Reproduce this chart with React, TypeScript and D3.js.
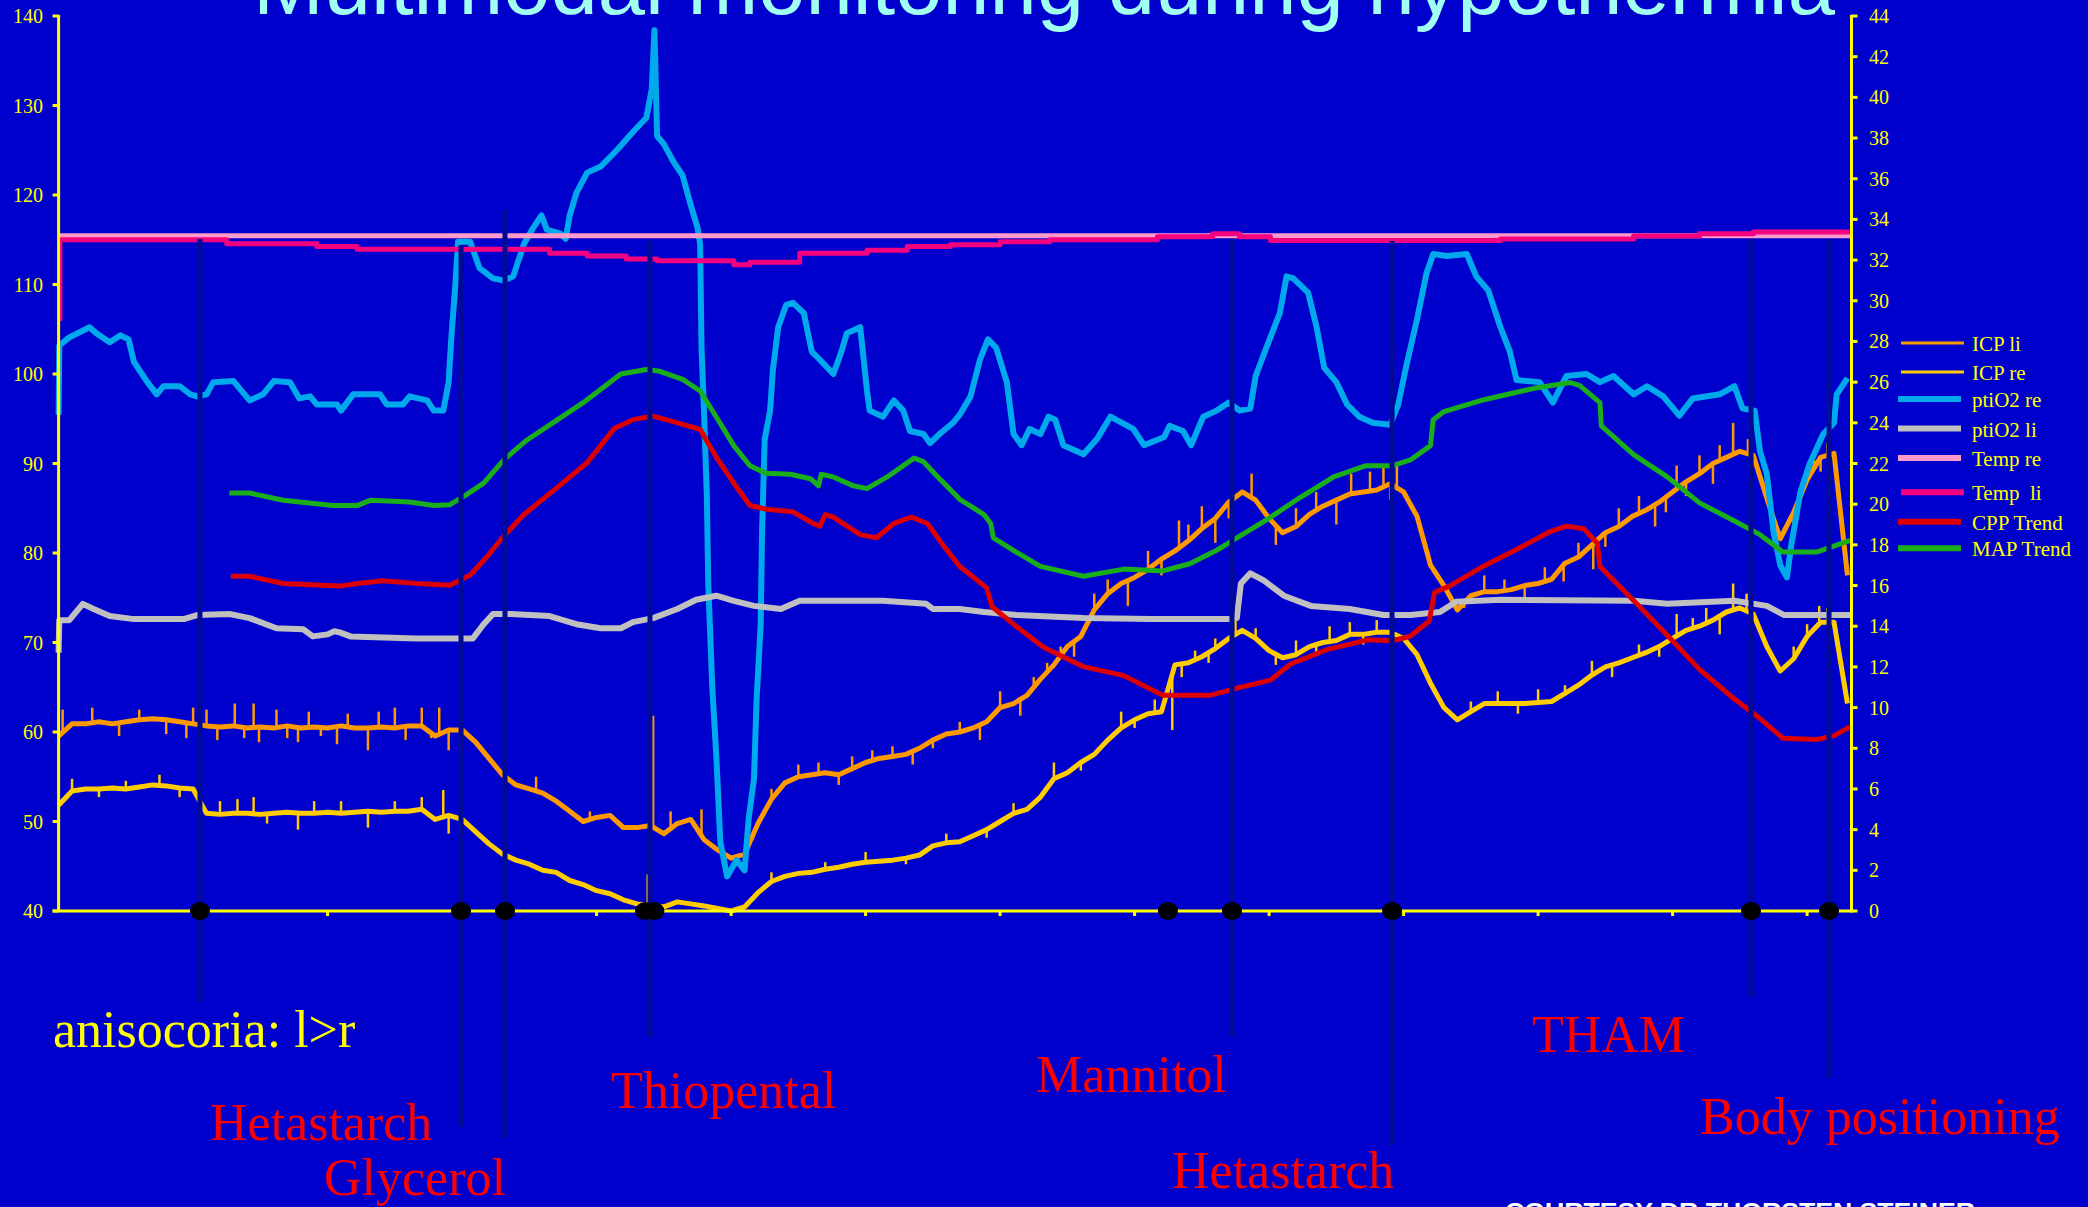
import React from 'react';
import * as d3 from 'd3';

type P = [number, number];

// ---------- DATA ----------
const T_END = 13.33; // hours shown on the time axis
const hourTicks = d3.range(0, 14);
const leftTicks = d3.range(40, 141, 10); // MAP / CPP (mmHg)
const rightTicks = d3.range(0, 45, 2); // ICP, ptiO2, Temp

const ICP_STEP = 0.1; // hours between ICP trend samples
const icpLi = [
  8.6, 9.2, 9.2, 9.3, 9.2, 9.3, 9.4, 9.45, 9.4, 9.3, 9.2, 9.1, 9.05, 9.1, 9.0, 9.05, 9.0, 9.1, 9.0, 9.05,
  9.0, 9.1, 9.0, 9.0, 9.05, 9.0, 9.1, 9.1, 8.6, 8.9, 8.9, 8.3, 7.5, 6.7, 6.2, 6.0, 5.8, 5.4, 4.9, 4.4,
  4.6, 4.7, 4.1, 4.1, 4.2, 3.8, 4.3, 4.5, 3.5, 3.0, 2.6, 2.8, 4.3, 5.5, 6.3, 6.6, 6.7, 6.8, 6.7, 7.0,
  7.3, 7.5, 7.6, 7.7, 8.0, 8.4, 8.7, 8.8, 9.0, 9.3, 10.0, 10.2, 10.6, 11.4, 12.1, 13.0, 13.5, 14.8, 15.6, 16.1,
  16.4, 16.8, 17.3, 17.7, 18.2, 18.8, 19.3, 20.1, 20.6, 20.2, 19.3, 18.6, 18.9, 19.5, 19.9, 20.2, 20.5, 20.6, 20.7, 21.0,
  20.6, 19.4, 17.0, 16.0, 14.8, 15.5, 15.7, 15.7, 15.8, 16.0, 16.1, 16.3, 17.1, 17.4, 18.0, 18.6, 18.9, 19.4, 19.7, 20.1,
  20.6, 21.1, 21.5, 22.0, 22.3, 22.6, 22.4, 20.3, 18.3, 19.6, 21.2, 22.3, 22.5, 16.5,
];
const icpRe = [
  5.2, 5.9, 6.0, 6.0, 6.05, 6.0, 6.1, 6.2, 6.15, 6.05, 6.0, 4.8, 4.75, 4.8, 4.8, 4.75, 4.8, 4.85, 4.8, 4.8,
  4.85, 4.8, 4.85, 4.9, 4.85, 4.9, 4.9, 5.0, 4.5, 4.7, 4.5, 3.9, 3.3, 2.8, 2.5, 2.3, 2.0, 1.9, 1.5, 1.3,
  1.0, 0.85, 0.55, 0.35, 0.3, 0.2, 0.45, 0.35, 0.25, 0.12, 0.0, 0.2, 0.9, 1.45, 1.7, 1.85, 1.9, 2.05, 2.15, 2.3,
  2.4, 2.45, 2.5, 2.6, 2.75, 3.2, 3.35, 3.4, 3.7, 4.0, 4.4, 4.8, 5.0, 5.6, 6.5, 6.8, 7.3, 7.7, 8.4, 9.0,
  9.4, 9.7, 9.8, 12.1, 12.2, 12.5, 12.9, 13.4, 13.8, 13.4, 12.8, 12.45, 12.6, 13.0, 13.2, 13.3, 13.6, 13.6, 13.7, 13.7,
  13.4, 12.6, 11.2, 10.0, 9.4, 9.8, 10.2, 10.2, 10.2, 10.2, 10.25, 10.3, 10.7, 11.1, 11.6, 12.0, 12.2, 12.45, 12.7, 13.0,
  13.4, 13.8, 14.0, 14.3, 14.7, 14.9, 14.6, 13.0, 11.8, 12.4, 13.5, 14.2, 14.2, 10.2,
];
// individual artefact spikes in the raw ICP signals [hour, value]
const icpLiSpikes: P[] = [
  [0.03, 9.9], [0.25, 10.0], [0.45, 8.6], [0.6, 9.9], [0.8, 8.7], [0.95, 8.5], [1.0, 10.0], [1.1, 9.9], [1.18, 8.4],
  [1.31, 10.2], [1.38, 8.5], [1.45, 10.2], [1.49, 8.3], [1.62, 9.9], [1.7, 8.5], [1.78, 8.3], [1.86, 9.8], [1.95, 8.6],
  [2.07, 8.2], [2.15, 9.7], [2.3, 7.9], [2.38, 9.8], [2.5, 10.0], [2.58, 8.4], [2.7, 10.0], [2.77, 8.5], [2.83, 10.0],
  [2.9, 7.9], [3.55, 6.6], [3.95, 4.9], [4.42, 9.6], [4.55, 4.9], [4.78, 5.0], [5.3, 6.0], [5.5, 7.2], [5.65, 7.3],
  [5.8, 6.2], [5.9, 7.6], [6.05, 7.9], [6.2, 8.1], [6.35, 7.2], [6.5, 8.0], [6.7, 9.3], [6.85, 8.4], [7.0, 10.8],
  [7.15, 9.6], [7.25, 11.5], [7.35, 12.2], [7.45, 13.0], [7.55, 12.5], [7.7, 15.6], [7.8, 16.3], [7.95, 15.0], [8.1, 17.7],
  [8.2, 16.5], [8.33, 19.2], [8.4, 19.0], [8.5, 19.9], [8.6, 18.1], [8.7, 19.3], [8.87, 21.5], [9.05, 18.0], [9.2, 19.8],
  [9.35, 20.6], [9.5, 19.0], [9.61, 21.5], [9.75, 21.6], [9.85, 21.8], [9.9, 20.2], [9.95, 22.0], [10.45, 14.9], [10.6, 16.5],
  [10.75, 16.3], [10.9, 15.4], [11.05, 16.9], [11.19, 16.2], [11.3, 18.1], [11.41, 16.8], [11.5, 17.9], [11.6, 19.8],
  [11.75, 20.4], [11.87, 18.9], [11.95, 19.6], [12.03, 21.9], [12.1, 20.4], [12.2, 22.4], [12.3, 21.0], [12.35, 22.9],
  [12.45, 24.0], [12.56, 23.2], [12.9, 18.4], [13.05, 22.3], [13.1, 21.6], [13.15, 23.0],
];
const icpReSpikes: P[] = [
  [0.1, 6.5], [0.3, 5.6], [0.5, 6.4], [0.75, 6.7], [0.9, 5.6], [1.2, 5.4], [1.33, 5.5], [1.45, 5.6], [1.55, 4.3],
  [1.78, 4.0], [1.9, 5.4], [2.1, 5.4], [2.3, 4.1], [2.5, 5.4], [2.7, 5.6], [2.86, 5.95], [2.9, 3.8], [4.38, 1.8],
  [5.3, 1.9], [5.7, 2.4], [6.0, 2.9], [6.3, 2.3], [6.6, 3.8], [6.9, 3.6], [7.1, 5.3], [7.4, 7.3], [7.6, 6.9],
  [7.9, 9.8], [8.0, 9.0], [8.15, 10.4], [8.28, 8.9], [8.35, 11.5], [8.45, 12.8], [8.55, 12.2], [8.6, 13.4], [8.75, 14.5],
  [8.9, 13.9], [9.05, 12.1], [9.2, 13.3], [9.35, 12.6], [9.45, 14.0], [9.6, 14.2], [9.7, 13.1], [9.8, 14.3], [10.5, 10.3],
  [10.7, 10.8], [10.85, 9.7], [11.0, 10.9], [11.2, 11.1], [11.4, 12.3], [11.55, 11.5], [11.75, 13.1], [11.9, 12.5],
  [12.03, 14.6], [12.15, 14.4], [12.25, 14.9], [12.35, 13.6], [12.45, 16.1], [12.55, 15.6], [12.9, 13.0], [13.0, 14.1],
  [13.09, 15.0], [13.15, 14.9],
];

const ptiO2Re: P[] = [
  [0, 24.4], [0.005, 27.8], [0.08, 28.2], [0.23, 28.7], [0.28, 28.4], [0.38, 27.96], [0.46, 28.3], [0.52, 28.1],
  [0.56, 27.0], [0.66, 26.0], [0.73, 25.4], [0.78, 25.8], [0.9, 25.8], [0.98, 25.4], [1.03, 25.3], [1.1, 25.4],
  [1.15, 26.0], [1.3, 26.05], [1.42, 25.1], [1.52, 25.4], [1.6, 26.05], [1.72, 26.0], [1.79, 25.2], [1.87, 25.3],
  [1.92, 24.9], [2.07, 24.9], [2.1, 24.6], [2.19, 25.4], [2.39, 25.4], [2.44, 24.9], [2.56, 24.9], [2.61, 25.3],
  [2.74, 25.1], [2.79, 24.6], [2.86, 24.6], [2.9, 26.0], [2.92, 28.2], [2.95, 30.8], [2.97, 32.9], [3.06, 32.9],
  [3.13, 31.6], [3.23, 31.1], [3.31, 31.0], [3.38, 31.2], [3.46, 32.8], [3.53, 33.6], [3.59, 34.2], [3.63, 33.5],
  [3.73, 33.3], [3.77, 33.05], [3.8, 34.2], [3.85, 35.3], [3.93, 36.3], [4.03, 36.6], [4.15, 37.4], [4.27, 38.3],
  [4.37, 39.0], [4.41, 40.4], [4.43, 43.3], [4.45, 38.1], [4.5, 37.7], [4.57, 36.85], [4.64, 36.15], [4.7, 34.7],
  [4.75, 33.6], [4.77, 32.76], [4.78, 27.7], [4.8, 24.3], [4.82, 20.3], [4.83, 16.1], [4.86, 11.0], [4.89, 7.6],
  [4.92, 3.4], [4.97, 1.7], [5.04, 2.5], [5.1, 2.0], [5.13, 4.5], [5.17, 6.5], [5.19, 10.45], [5.22, 14.1],
  [5.23, 18.65], [5.25, 23.2], [5.29, 24.6], [5.31, 26.55], [5.35, 28.7], [5.41, 29.8], [5.46, 29.9], [5.54, 29.4],
  [5.6, 27.5], [5.66, 27.1], [5.76, 26.4], [5.82, 27.5], [5.86, 28.4], [5.96, 28.7], [6.01, 25.6], [6.03, 24.6],
  [6.13, 24.3], [6.21, 25.1], [6.28, 24.6], [6.33, 23.6], [6.43, 23.45], [6.48, 23.0], [6.55, 23.45], [6.65, 24.0],
  [6.7, 24.4], [6.78, 25.3], [6.85, 27.1], [6.91, 28.1], [6.97, 27.7], [7.05, 26.0], [7.1, 23.45], [7.16, 22.9],
  [7.22, 23.7], [7.3, 23.45], [7.36, 24.3], [7.41, 24.15], [7.47, 22.9], [7.62, 22.45], [7.72, 23.2], [7.82, 24.3],
  [7.99, 23.7], [8.07, 22.9], [8.22, 23.3], [8.26, 23.85], [8.36, 23.6], [8.42, 22.9], [8.51, 24.3], [8.61, 24.6],
  [8.7, 25.0], [8.78, 24.6], [8.86, 24.7], [8.9, 26.3], [8.98, 27.7], [9.08, 29.4], [9.13, 31.2], [9.18, 31.1],
  [9.29, 30.4], [9.35, 28.8], [9.41, 26.7], [9.5, 26.0], [9.58, 24.9], [9.67, 24.3], [9.77, 24.0], [9.9, 23.9],
  [9.96, 24.9], [10.02, 26.8], [10.1, 29.1], [10.17, 31.35], [10.22, 32.3], [10.32, 32.2], [10.47, 32.3], [10.54, 31.2],
  [10.63, 30.5], [10.72, 28.7], [10.79, 27.5], [10.84, 26.1], [11.01, 26.0], [11.11, 25.0], [11.21, 26.3], [11.36, 26.4],
  [11.46, 26.0], [11.56, 26.3], [11.71, 25.4], [11.81, 25.8], [11.93, 25.3], [12.05, 24.35], [12.15, 25.2], [12.35, 25.4],
  [12.46, 25.8], [12.52, 24.7], [12.61, 24.6], [12.65, 22.6], [12.7, 21.5], [12.75, 18.65], [12.8, 17.0], [12.85, 16.4],
  [12.88, 17.9], [12.95, 20.6], [13.02, 22.0], [13.12, 23.45], [13.2, 24.0], [13.22, 25.4], [13.3, 26.2],
];

const ptiO2Li: P[] = [
  [0, 12.7], [0.005, 14.3], [0.08, 14.3], [0.18, 15.1], [0.26, 14.85], [0.38, 14.5], [0.56, 14.35], [0.93, 14.35],
  [1.03, 14.55], [1.27, 14.6], [1.42, 14.4], [1.62, 13.9], [1.82, 13.85], [1.89, 13.5], [2.0, 13.6], [2.05, 13.75],
  [2.09, 13.7], [2.17, 13.5], [2.66, 13.4], [3.08, 13.4], [3.16, 14.1], [3.23, 14.6], [3.36, 14.6], [3.65, 14.5],
  [3.85, 14.1], [4.03, 13.9], [4.18, 13.9], [4.27, 14.2], [4.42, 14.4], [4.6, 14.85], [4.74, 15.3], [4.89, 15.5],
  [5.02, 15.25], [5.17, 15.0], [5.37, 14.85], [5.51, 15.25], [6.13, 15.25], [6.45, 15.1], [6.5, 14.85], [6.7, 14.85],
  [6.88, 14.7], [7.12, 14.55], [7.62, 14.4], [8.12, 14.35], [8.7, 14.35], [8.76, 14.4], [8.79, 16.1], [8.86, 16.6],
  [8.96, 16.25], [9.11, 15.5], [9.31, 15.0], [9.6, 14.85], [9.85, 14.55], [10.05, 14.55], [10.27, 14.7], [10.39, 15.2],
  [10.72, 15.3], [11.71, 15.25], [11.96, 15.1], [12.46, 15.25], [12.7, 15.0], [12.83, 14.55], [13.33, 14.55],
];

const tempRe: P[] = [[0, 33.2], [13.33, 33.2]];
const tempLi: P[] = [
  [0, 29.1], [0.01, 33.0], [1.25, 32.8], [1.92, 32.67], [2.22, 32.53], [3.65, 32.34], [3.93, 32.2], [4.22, 32.05],
  [4.45, 31.97], [5.02, 31.77], [5.14, 31.9], [5.51, 32.34], [6.01, 32.48], [6.31, 32.67], [6.63, 32.76], [7.0, 32.9],
  [7.37, 33.0], [8.17, 33.15], [8.58, 33.3], [8.78, 33.15], [9.01, 32.96], [10.72, 33.04], [11.71, 33.18], [12.2, 33.3],
  [12.6, 33.38], [13.33, 33.38],
];

const mapTrend: P[] = [
  [1.27, 86.7], [1.42, 86.7], [1.67, 85.9], [2.04, 85.3], [2.22, 85.3], [2.32, 85.9], [2.61, 85.7], [2.79, 85.3],
  [2.91, 85.4], [3.03, 86.5], [3.16, 87.8], [3.31, 90.4], [3.48, 92.6], [3.68, 94.6], [3.9, 96.8], [4.18, 100.0],
  [4.37, 100.5], [4.47, 100.3], [4.64, 99.4], [4.77, 98.1], [4.89, 95.2], [5.02, 92.0], [5.14, 89.75], [5.26, 88.9],
  [5.44, 88.8], [5.59, 88.3], [5.65, 87.5], [5.67, 88.8], [5.76, 88.5], [5.91, 87.5], [6.01, 87.2], [6.16, 88.5],
  [6.36, 90.6], [6.43, 90.2], [6.55, 88.3], [6.7, 86.0], [6.88, 84.3], [6.93, 83.3], [6.95, 81.7], [7.12, 80.1],
  [7.3, 78.5], [7.62, 77.4], [7.92, 78.2], [8.21, 78.0], [8.41, 78.8], [8.61, 80.3], [8.76, 81.7], [8.98, 83.7],
  [9.23, 86.2], [9.48, 88.5], [9.72, 89.75], [9.92, 89.75], [10.05, 90.4], [10.2, 92.0], [10.22, 94.9], [10.3, 95.8],
  [10.59, 97.1], [10.97, 98.4], [11.24, 99.05], [11.31, 98.7], [11.46, 96.8], [11.47, 94.2], [11.71, 91.0], [11.96, 88.5],
  [12.2, 85.6], [12.45, 83.65], [12.65, 82.05], [12.82, 80.1], [13.07, 80.1], [13.32, 81.4],
];

const cppTrend: P[] = [
  [1.28, 77.4], [1.42, 77.4], [1.67, 76.6], [2.09, 76.3], [2.22, 76.6], [2.41, 76.9], [2.66, 76.6], [2.91, 76.4],
  [3.06, 77.55], [3.18, 79.5], [3.31, 81.9], [3.46, 84.3], [3.68, 87.0], [3.93, 90.1], [4.13, 93.9], [4.27, 94.9],
  [4.42, 95.3], [4.59, 94.6], [4.77, 93.8], [4.89, 90.7], [5.02, 87.8], [5.14, 85.3], [5.26, 84.9], [5.46, 84.6],
  [5.61, 83.3], [5.66, 83.0], [5.7, 84.3], [5.76, 84.0], [5.96, 82.05], [6.08, 81.7], [6.21, 83.3], [6.34, 84.0],
  [6.46, 83.3], [6.58, 80.8], [6.7, 78.5], [6.78, 77.55], [6.9, 76.1], [6.94, 74.0], [7.12, 71.8], [7.32, 69.5],
  [7.62, 67.3], [7.92, 66.3], [8.21, 64.1], [8.56, 64.1], [8.76, 64.9], [9.01, 65.8], [9.16, 67.6], [9.43, 69.2],
  [9.73, 70.3], [9.92, 70.2], [10.05, 70.7], [10.19, 72.4], [10.23, 75.6], [10.34, 76.3], [10.59, 78.5], [10.84, 80.4],
  [11.09, 82.4], [11.21, 83.0], [11.34, 82.7], [11.44, 81.1], [11.46, 78.5], [11.71, 74.7], [11.96, 70.8], [12.2, 67.0],
  [12.45, 63.8], [12.65, 61.5], [12.82, 59.3], [13.07, 59.15], [13.2, 59.6], [13.32, 60.6],
];

// interventions (hours)
const eventHours = [1.051, 2.992, 3.319, 4.397, 8.724, 9.914, 12.583, 13.163];
const dotHours = [1.051, 2.992, 3.319, 4.36, 4.43, 8.248, 8.724, 9.914, 12.583, 13.163];

const legendNames = ['ICP li', 'ICP re', 'ptiO2 re', 'ptiO2 li', 'Temp re', 'Temp  li', 'CPP Trend', 'MAP Trend'];

const titleText = 'Multimodal monitoring during hypothermia';

// ---------- LAYOUT / STYLE ----------
const W = 2088;
const H = 1207;
const BG = '#0000CC';
const AX = '#FFFF00';
const LEFT = 58.6;
const RIGHT = 1851.5;
const TOP = 16;
const BOTTOM = 911;
const SERIF = '"Liberation Serif", "Times New Roman", serif';

const colors = {
  icpLi: '#FF9900',
  icpRe: '#FFCC00',
  ptiRe: '#00A8EC',
  ptiLi: '#C0C0C0',
  tempRe: '#FF99CC',
  tempLi: '#F5007E',
  cpp: '#DD0000',
  map: '#1AAE1A',
};
const legendStyle = [
  { c: colors.icpLi, w: 3, x0: 1901 },
  { c: colors.icpRe, w: 3, x0: 1901 },
  { c: colors.ptiRe, w: 6, x0: 1898 },
  { c: colors.ptiLi, w: 6, x0: 1898 },
  { c: colors.tempRe, w: 6, x0: 1898 },
  { c: colors.tempLi, w: 6, x0: 1901 },
  { c: colors.cpp, w: 6, x0: 1898 },
  { c: colors.map, w: 6, x0: 1898 },
];
const legendY = [343, 372, 399, 428.6, 458, 492.3, 521.7, 548.3];

const eventTop = [239, 245, 210, 241, 239, 241, 239, 239];
const eventBottom = [1002, 1127, 1138, 1037, 1037, 1145, 997, 1078];

const labels = [
  { t: 'anisocoria: l>r', x: 53, y: 1047, c: '#FFFF00' },
  { t: 'Hetastarch', x: 210, y: 1140, c: '#FF0000' },
  { t: 'Glycerol', x: 324, y: 1195, c: '#FF0000' },
  { t: 'Thiopental', x: 611, y: 1108, c: '#FF0000' },
  { t: 'Mannitol', x: 1036, y: 1092, c: '#FF0000' },
  { t: 'Hetastarch', x: 1172, y: 1188, c: '#FF0000' },
  { t: 'THAM', x: 1532, y: 1052, c: '#FF0000' },
  { t: 'Body positioning', x: 1700, y: 1134, c: '#FF0000' },
];

export default function App() {
  const x = d3.scaleLinear().domain([0, T_END]).range([LEFT, RIGHT]);
  const yL = d3.scaleLinear().domain([40, 140]).range([BOTTOM, TOP]);
  const yR = d3.scaleLinear().domain([0, 44]).range([BOTTOM, TOP]);

  const lineL = d3.line<P>().x((d) => x(d[0])).y((d) => yL(d[1]));
  const lineR = d3.line<P>().x((d) => x(d[0])).y((d) => yR(d[1]));
  const stepR = d3
    .line<P>()
    .x((d) => x(d[0]))
    .y((d) => yR(d[1]))
    .curve(d3.curveStepAfter);
  const icpPts = (arr: number[]): P[] => arr.map((v, i) => [i * ICP_STEP, v]);
  const baseAt = (arr: number[], h: number) => {
    const f = h / ICP_STEP;
    const i = Math.min(arr.length - 2, Math.floor(f));
    const t = f - i;
    return arr[i] * (1 - t) + arr[i + 1] * t;
  };

  const spikes = (arr: number[], sp: P[], c: string, key: string) => (
    <g key={key} stroke={c} strokeWidth={2.5}>
      {sp.map((s, i) => (
        <line key={i} x1={x(s[0])} x2={x(s[0])} y1={yR(baseAt(arr, s[0]))} y2={yR(s[1])} />
      ))}
    </g>
  );

  const series = [
    { d: lineR(ptiO2Re), c: colors.ptiRe, w: 6 },
    { d: lineR(ptiO2Li), c: colors.ptiLi, w: 6 },
    { d: lineR(tempRe), c: colors.tempRe, w: 5 },
    { d: stepR(tempLi), c: colors.tempLi, w: 5 },
    { d: lineL(cppTrend), c: colors.cpp, w: 5 },
    { d: lineL(mapTrend), c: colors.map, w: 5 },
  ];

  return (
    <svg
      width={W}
      height={H}
      style={{ position: 'absolute', left: 0, top: 0, display: 'block' }}
      xmlns="http://www.w3.org/2000/svg"
    >
      <rect x={0} y={0} width={W} height={H} fill={BG} />

      <text
        x={253}
        y={14}
        fill="#A0FFF0"
        fontFamily='"Liberation Sans", Arial, sans-serif'
        fontSize={85}
        textLength={1582}
        lengthAdjust="spacingAndGlyphs"
      >
        {titleText}
      </text>

      {/* ICP raw signals: trend band plus artefact spikes */}
      <g fill="none" strokeLinejoin="round">
        <path d={lineR(icpPts(icpLi)) || ''} stroke={colors.icpLi} strokeWidth={5} />
        {spikes(icpLi, icpLiSpikes, colors.icpLi, 'sl')}
        <path d={lineR(icpPts(icpRe)) || ''} stroke={colors.icpRe} strokeWidth={5} />
        {spikes(icpRe, icpReSpikes, colors.icpRe, 'sr')}
      </g>

      {/* other series */}
      <g fill="none" strokeLinejoin="round" strokeLinecap="butt">
        {series.map((s, i) => (
          <path key={i} d={s.d || ''} stroke={s.c} strokeWidth={s.w} />
        ))}
      </g>

      {/* left axis */}
      <g stroke={AX} strokeWidth={3}>
        <line x1={LEFT} x2={LEFT} y1={TOP - 1} y2={BOTTOM} />
        {leftTicks.map((t) => (
          <line key={t} x1={LEFT - 6} x2={LEFT} y1={yL(t)} y2={yL(t)} />
        ))}
      </g>
      <g fill={AX} fontFamily={SERIF} fontSize={20} textAnchor="end">
        {leftTicks.map((t) => (
          <text key={t} x={43} y={yL(t) + 7}>
            {t}
          </text>
        ))}
      </g>

      {/* right axis */}
      <g stroke={AX} strokeWidth={3}>
        <line x1={RIGHT} x2={RIGHT} y1={TOP - 1} y2={BOTTOM + 1.5} />
        {rightTicks.map((t) => (
          <line key={t} x1={RIGHT} x2={RIGHT + 6} y1={yR(t)} y2={yR(t)} />
        ))}
      </g>
      <g fill={AX} fontFamily={SERIF} fontSize={20} textAnchor="start">
        {rightTicks.map((t) => (
          <text key={t} x={1869} y={yR(t) + 7}>
            {t}
          </text>
        ))}
      </g>

      {/* x axis */}
      <g stroke={AX} strokeWidth={3}>
        <line x1={LEFT - 6} x2={RIGHT} y1={BOTTOM} y2={BOTTOM} />
        {hourTicks.slice(1).map((h) => (
          <line key={h} x1={x(h)} x2={x(h)} y1={BOTTOM} y2={BOTTOM + 5} />
        ))}
      </g>

      {/* intervention markers */}
      <g stroke="#000A94" strokeWidth={5}>
        {eventHours.map((h, i) => (
          <line key={i} x1={x(h)} x2={x(h)} y1={eventTop[i]} y2={eventBottom[i]} />
        ))}
      </g>
      <g fill="#000000">
        {dotHours.map((h, i) => (
          <ellipse key={i} cx={x(h)} cy={BOTTOM} rx={10} ry={9} />
        ))}
      </g>

      {/* annotations */}
      <g fontFamily={SERIF} fontSize={52}>
        {labels.map((l, i) => (
          <text key={i} x={l.x} y={l.y} fill={l.c}>
            {l.t}
          </text>
        ))}
      </g>

      {/* legend */}
      <g>
        {legendNames.map((n, i) => (
          <g key={n}>
            <line
              x1={legendStyle[i].x0}
              x2={legendStyle[i].x0 + 63}
              y1={legendY[i]}
              y2={legendY[i]}
              stroke={legendStyle[i].c}
              strokeWidth={legendStyle[i].w}
            />
            <text
              x={1972}
              y={legendY[i] + 8}
              fill={AX}
              fontFamily={SERIF}
              fontSize={21}
              style={{ whiteSpace: 'pre' }}
            >
              {n}
            </text>
          </g>
        ))}
      </g>

      <text
        x={1505}
        y={1220}
        fill="#FFFFFF"
        fontFamily='"Liberation Sans", Arial, sans-serif'
        fontWeight="bold"
        fontSize={23}
        textLength={470}
        lengthAdjust="spacingAndGlyphs"
      >
        COURTESY DR THORSTEN STEINER
      </text>
    </svg>
  );
}
